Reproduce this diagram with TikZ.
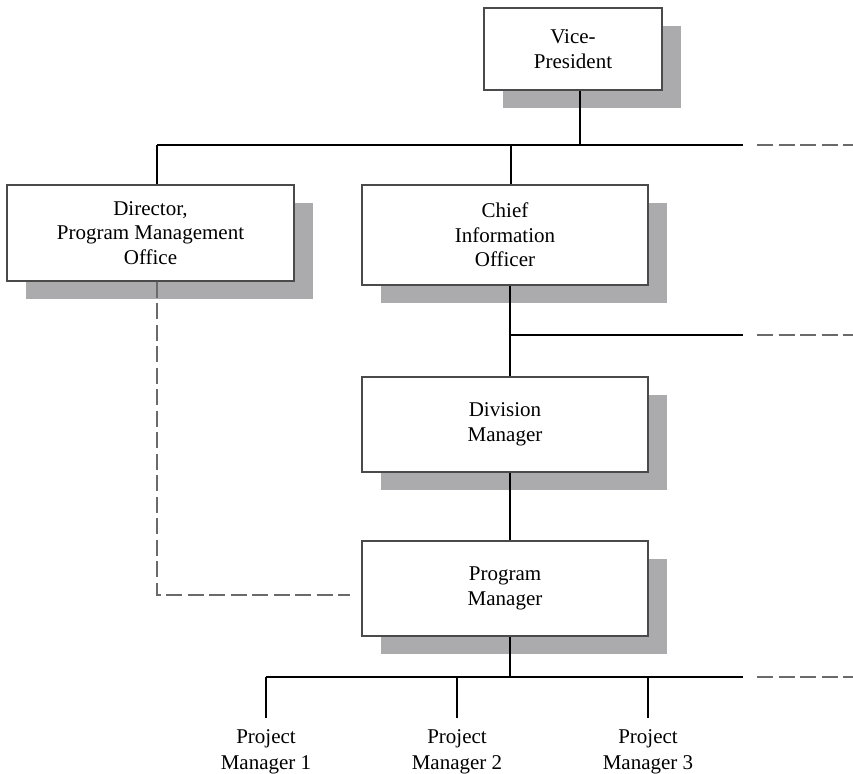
\documentclass[tikz,border=0pt]{standalone}
\usepackage{fontspec}
\setmainfont{Liberation Serif}
\usetikzlibrary{shadows}
\definecolor{shadowgray}{HTML}{ABABAE}
\definecolor{boxline}{HTML}{4A4A4A}
\definecolor{dashgray}{HTML}{6A6A6A}
\tikzset{
  orgbox/.style={draw=boxline, line width=1.3pt, fill=white, rectangle, inner sep=0pt,
    align=center, font=\fontsize{21}{24.5}\selectfont,
    drop shadow={shadow xshift=19pt, shadow yshift=-18pt, opacity=1, fill=shadowgray}},
  conn/.style={line width=1.2pt, black},
  dashconn/.style={line width=1.3pt, dashgray, dash pattern=on 16pt off 5.5pt},
  pmlabel/.style={inner sep=0pt, align=center, anchor=north, font=\fontsize{21}{26}\selectfont}
}
\begin{document}
\begin{tikzpicture}[x=1pt,y=-1pt]
\useasboundingbox (0,0) rectangle (853,773);

\node[orgbox, minimum width=178pt, minimum height=82pt] (vp) at (573,49) {Vice-\\President};
\node[orgbox, minimum width=287pt, minimum height=96pt] (dir) at (150.5,233) {Director,\\Program Management\\Office};
\node[orgbox, minimum width=286pt, minimum height=100pt] (cio) at (505,235) {Chief\\Information\\Officer};
\node[orgbox, minimum width=286pt, minimum height=95pt] (div) at (505,424.5) {Division\\Manager};
\node[orgbox, minimum width=286pt, minimum height=95pt] (pm) at (505,588.5) {Program\\Manager};

\node[pmlabel] (p1) at (266,729) {Project\\Manager 1};
\node[pmlabel] (p2) at (457,729) {Project\\Manager 2};
\node[pmlabel] (p3) at (648,729) {Project\\Manager 3};

% junction coordinates
\coordinate (jvp) at (580,145);
\coordinate (jl) at (157,145);
\coordinate (jc) at (511,145);
\coordinate (jr) at (743,145);
\coordinate (dr) at (757,145);
\coordinate (de) at (853,145);

\coordinate (jcio) at (510,335);
\coordinate (jcior) at (743,335);
\coordinate (dcio) at (757,335);
\coordinate (dcioe) at (853,335);

\coordinate (jpm) at (510,677);
\coordinate (jp1) at (266,677);
\coordinate (jp2) at (457,677);
\coordinate (jp3) at (648,677);
\coordinate (jpmr) at (743,677);
\coordinate (dpm) at (757,677);
\coordinate (dpme) at (853,677);
\coordinate (t1) at (266,718);
\coordinate (t2) at (457,718);
\coordinate (t3) at (648,718);

\coordinate (dcorner) at (157,595);
\coordinate (dend) at (350,595);

% connectors
\draw[conn] (vp.south -| jvp) -- (jvp);
\draw[conn] (jl) -- (jr);
\draw[dashconn] (dr) -- (de);
\draw[conn] (jl) -- (dir.north -| jl);
\draw[conn] (jc) -- (cio.north -| jc);

\draw[conn] (cio.south -| jcio) -- (div.north -| jcio);
\draw[conn] (jcio) -- (jcior);
\draw[dashconn] (dcio) -- (dcioe);

\draw[conn] (div.south -| jcio) -- (pm.north -| jcio);

\draw[conn] (pm.south -| jpm) -- (jpm);
\draw[conn] (jp1) -- (jpmr);
\draw[dashconn] (dpm) -- (dpme);
\draw[conn] (jp1) -- (t1);
\draw[conn] (jp2) -- (t2);
\draw[conn] (jp3) -- (t3);

\draw[dashconn] (dir.south -| dcorner) -- (dcorner) -- (dend);
\end{tikzpicture}
\end{document}
